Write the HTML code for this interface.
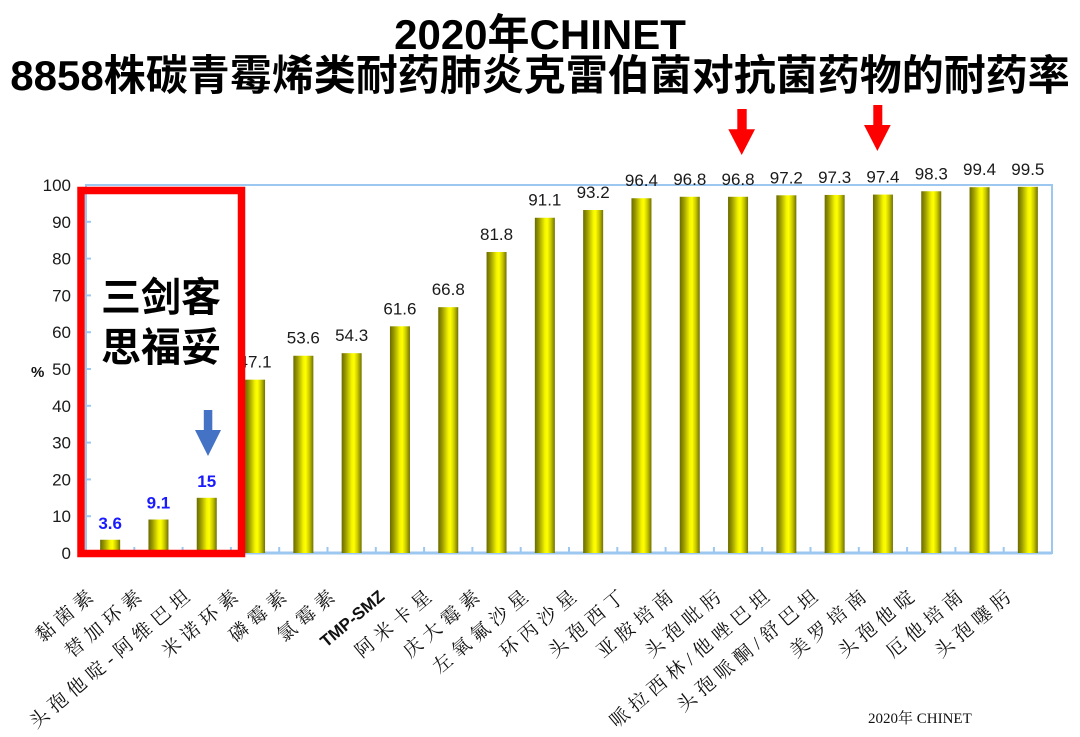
<!DOCTYPE html>
<html>
<head>
<meta charset="utf-8">
<style>
html,body{margin:0;padding:0;background:#fff;}
body{width:1080px;height:737px;overflow:hidden;}
svg{display:block;}
.t{font-family:"Liberation Sans","Noto Sans CJK SC",sans-serif;font-weight:bold;fill:#000;}
.yl{font-family:"Liberation Sans",sans-serif;font-size:17px;fill:#1a1a1a;}
.vl{font-family:"Liberation Sans",sans-serif;font-size:17px;fill:#1a1a1a;}
.bl{font-family:"Liberation Sans",sans-serif;font-size:17px;font-weight:bold;fill:#1a1aff;}
.xl{font-family:"Liberation Serif","Noto Serif CJK SC",serif;font-size:19px;letter-spacing:5.5px;fill:#111;}
</style>
</head>
<body>
<svg width="1080" height="737" viewBox="0 0 1080 737" xmlns="http://www.w3.org/2000/svg">
<defs>
<linearGradient id="g" x1="0" y1="0" x2="1" y2="0">
<stop offset="0" stop-color="#6a6a00"/>
<stop offset="0.2" stop-color="#9a9a00"/>
<stop offset="0.5" stop-color="#f4f400"/>
<stop offset="0.62" stop-color="#ffff00"/>
<stop offset="0.8" stop-color="#c8c800"/>
<stop offset="1" stop-color="#707000"/>
</linearGradient>
</defs>

<!-- Title -->
<text class="t" x="540" y="49" font-size="42" text-anchor="middle">2020年CHINET</text>
<text class="t" x="540" y="90" font-size="42" text-anchor="middle">8858株碳青霉烯类耐药肺炎克雷伯菌对抗菌药物的耐药率</text>

<!-- Plot frame -->
<rect x="86" y="185" width="966" height="368" fill="none" stroke="#9cc7f0" stroke-width="2"/>
<line x1="86" y1="553" x2="1052" y2="553" stroke="#9cc7f0" stroke-width="3"/>

<!-- y ticks -->
<g stroke="#9cc7f0" stroke-width="2">
<line x1="86" y1="516.2" x2="91" y2="516.2"/>
<line x1="86" y1="479.4" x2="91" y2="479.4"/>
<line x1="86" y1="442.6" x2="91" y2="442.6"/>
<line x1="86" y1="405.8" x2="91" y2="405.8"/>
<line x1="86" y1="369" x2="91" y2="369"/>
<line x1="86" y1="332.2" x2="91" y2="332.2"/>
<line x1="86" y1="295.4" x2="91" y2="295.4"/>
<line x1="86" y1="258.6" x2="91" y2="258.6"/>
<line x1="86" y1="221.8" x2="91" y2="221.8"/>
</g>
<!-- x ticks -->
<g stroke="#9cc7f0" stroke-width="2">
<line x1="134.3" y1="553" x2="134.3" y2="547"/>
<line x1="182.6" y1="553" x2="182.6" y2="547"/>
<line x1="230.9" y1="553" x2="230.9" y2="547"/>
<line x1="279.2" y1="553" x2="279.2" y2="547"/>
<line x1="327.5" y1="553" x2="327.5" y2="547"/>
<line x1="375.8" y1="553" x2="375.8" y2="547"/>
<line x1="424.1" y1="553" x2="424.1" y2="547"/>
<line x1="472.4" y1="553" x2="472.4" y2="547"/>
<line x1="520.7" y1="553" x2="520.7" y2="547"/>
<line x1="569" y1="553" x2="569" y2="547"/>
<line x1="617.3" y1="553" x2="617.3" y2="547"/>
<line x1="665.6" y1="553" x2="665.6" y2="547"/>
<line x1="713.9" y1="553" x2="713.9" y2="547"/>
<line x1="762.2" y1="553" x2="762.2" y2="547"/>
<line x1="810.5" y1="553" x2="810.5" y2="547"/>
<line x1="858.8" y1="553" x2="858.8" y2="547"/>
<line x1="907.1" y1="553" x2="907.1" y2="547"/>
<line x1="955.4" y1="553" x2="955.4" y2="547"/>
<line x1="1003.7" y1="553" x2="1003.7" y2="547"/>
</g>

<!-- y labels -->
<g text-anchor="end">
<text class="yl" x="71" y="559">0</text>
<text class="yl" x="71" y="522.2">10</text>
<text class="yl" x="71" y="485.4">20</text>
<text class="yl" x="71" y="448.6">30</text>
<text class="yl" x="71" y="411.8">40</text>
<text class="yl" x="71" y="375">50</text>
<text class="yl" x="71" y="338.2">60</text>
<text class="yl" x="71" y="301.4">70</text>
<text class="yl" x="71" y="264.6">80</text>
<text class="yl" x="71" y="227.8">90</text>
<text class="yl" x="71" y="191">100</text>
</g>
<text x="31" y="377" font-family="Liberation Sans,sans-serif" font-size="15" font-weight="bold" fill="#111">%</text>

<!-- Bars -->
<g fill="url(#g)">
<rect x="100.15" y="539.75" width="20" height="13.25"/>
<rect x="148.45" y="519.51" width="20" height="33.49"/>
<rect x="196.75" y="497.8" width="20" height="55.2"/>
<rect x="245.05" y="379.67" width="20" height="173.33"/>
<rect x="293.35" y="355.75" width="20" height="197.25"/>
<rect x="341.65" y="353.18" width="20" height="199.82"/>
<rect x="389.95" y="326.31" width="20" height="226.69"/>
<rect x="438.25" y="307.18" width="20" height="245.82"/>
<rect x="486.55" y="251.98" width="20" height="301.02"/>
<rect x="534.85" y="217.75" width="20" height="335.25"/>
<rect x="583.15" y="210.02" width="20" height="342.98"/>
<rect x="631.45" y="198.25" width="20" height="354.75"/>
<rect x="679.75" y="196.78" width="20" height="356.22"/>
<rect x="728.05" y="196.78" width="20" height="356.22"/>
<rect x="776.35" y="195.3" width="20" height="357.7"/>
<rect x="824.65" y="194.94" width="20" height="358.06"/>
<rect x="872.95" y="194.57" width="20" height="358.43"/>
<rect x="921.25" y="191.26" width="20" height="361.74"/>
<rect x="969.55" y="187.21" width="20" height="365.79"/>
<rect x="1017.85" y="186.84" width="20" height="366.16"/>
</g>

<!-- Value labels -->
<g text-anchor="middle">
<text class="bl" x="110.15" y="529">3.6</text>
<text class="bl" x="158.45" y="508.5">9.1</text>
<text class="bl" x="206.75" y="487">15</text>
<text class="vl" x="255.05" y="367.7">47.1</text>
<text class="vl" x="303.35" y="343.7">53.6</text>
<text class="vl" x="351.65" y="341.2">54.3</text>
<text class="vl" x="399.95" y="314.3">61.6</text>
<text class="vl" x="448.25" y="295.2">66.8</text>
<text class="vl" x="496.55" y="240">81.8</text>
<text class="vl" x="544.85" y="205.7">91.1</text>
<text class="vl" x="593.15" y="198">93.2</text>
<text class="vl" x="641.45" y="186.2">96.4</text>
<text class="vl" x="689.75" y="184.8">96.8</text>
<text class="vl" x="738.05" y="184.8">96.8</text>
<text class="vl" x="786.35" y="183.3">97.2</text>
<text class="vl" x="834.65" y="182.9">97.3</text>
<text class="vl" x="882.95" y="182.6">97.4</text>
<text class="vl" x="931.25" y="179.3">98.3</text>
<text class="vl" x="979.55" y="175.2">99.4</text>
<text class="vl" x="1027.85" y="174.8">99.5</text>
</g>

<!-- X labels -->
<g text-anchor="end" dominant-baseline="central">
<text class="xl" transform="translate(95.15,591.4) rotate(-40)">黏菌素</text>
<text class="xl" transform="translate(143.45,591.4) rotate(-40)">替加环素</text>
<text class="xl" transform="translate(191.75,591.4) rotate(-40)">头孢他啶-阿维巴坦</text>
<text class="xl" transform="translate(240.05,591.4) rotate(-40)">米诺环素</text>
<text class="xl" transform="translate(288.35,591.4) rotate(-40)">磷霉素</text>
<text class="xl" transform="translate(336.65,591.4) rotate(-40)">氯霉素</text>
<text transform="translate(382,594) rotate(-40)" font-family="Liberation Sans,sans-serif" font-size="17" font-weight="bold" fill="#111">TMP-SMZ</text>
<text class="xl" transform="translate(433.25,591.4) rotate(-40)">阿米卡星</text>
<text class="xl" transform="translate(481.55,591.4) rotate(-40)">庆大霉素</text>
<text class="xl" transform="translate(529.85,591.4) rotate(-40)">左氧氟沙星</text>
<text class="xl" transform="translate(578.15,591.4) rotate(-40)">环丙沙星</text>
<text class="xl" transform="translate(626.45,591.4) rotate(-40)">头孢西丁</text>
<text class="xl" transform="translate(674.75,591.4) rotate(-40)">亚胺培南</text>
<text class="xl" transform="translate(723.05,591.4) rotate(-40)">头孢吡肟</text>
<text class="xl" transform="translate(771.35,591.4) rotate(-40)">哌拉西林/他唑巴坦</text>
<text class="xl" transform="translate(819.65,591.4) rotate(-40)">头孢哌酮/舒巴坦</text>
<text class="xl" transform="translate(867.95,591.4) rotate(-40)">美罗培南</text>
<text class="xl" transform="translate(916.25,591.4) rotate(-40)">头孢他啶</text>
<text class="xl" transform="translate(964.55,591.4) rotate(-40)">厄他培南</text>
<text class="xl" transform="translate(1012.85,591.4) rotate(-40)">头孢噻肟</text>
</g>

<!-- Red box -->
<rect x="81" y="190.5" width="160.5" height="363" fill="none" stroke="#ff0000" stroke-width="7.5"/>

<!-- 三剑客 思福妥 -->
<text class="t" x="161" y="298" font-size="40" text-anchor="middle" dominant-baseline="central">三剑客</text>
<text class="t" x="161" y="348" font-size="40" text-anchor="middle" dominant-baseline="central">思福妥</text>

<!-- Blue arrow -->
<polygon points="203.8,410 212.3,410 212.3,430 221,430 208,456 195,430 203.8,430" fill="#4472c4"/>

<!-- Red arrows -->
<polygon points="737.3,109 746.7,109 746.7,129.3 755,129.3 741.7,155 728.3,129.3 737.3,129.3" fill="#ff0000"/>
<polygon points="873.3,105 882.3,105 882.3,125 890.7,125 877.4,151 864,125 873.3,125" fill="#ff0000"/>

<!-- Source -->
<text x="868" y="723" font-family="Liberation Serif,'Noto Serif CJK SC',serif" font-size="15" fill="#111">2020年 CHINET</text>
</svg>
</body>
</html>
